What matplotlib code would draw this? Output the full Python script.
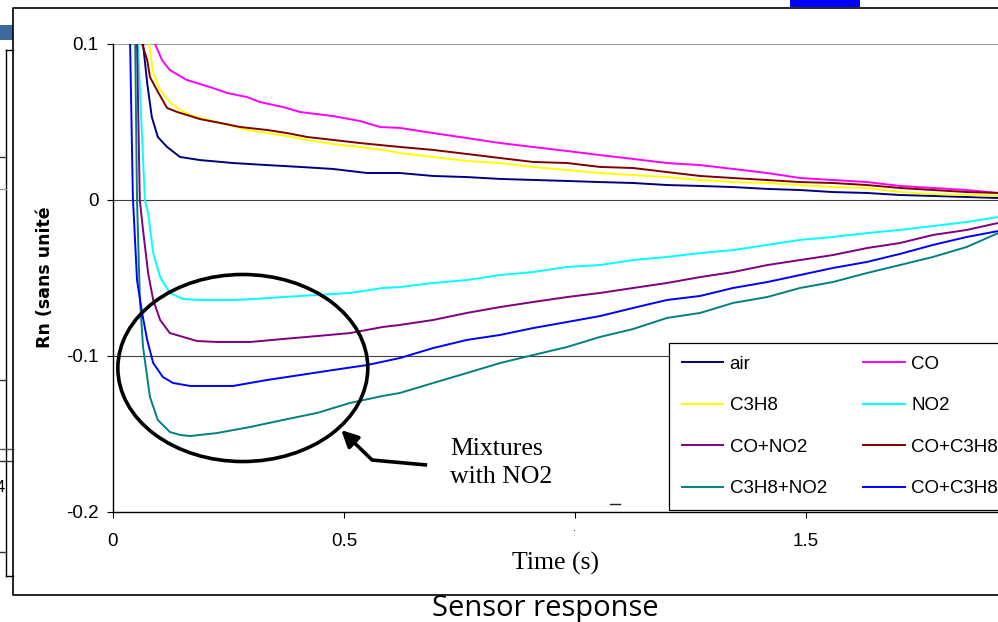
import matplotlib
matplotlib.use("Agg")
import matplotlib.pyplot as plt
from matplotlib.patches import Ellipse, Rectangle
from matplotlib.lines import Line2D

# --- data: time (s) and Rn for each gas ---
air_t = [0.065, 0.074, 0.084, 0.097, 0.117, 0.145, 0.188, 0.260, 0.333, 0.405,
         0.476, 0.550, 0.621, 0.693, 0.766, 0.838, 0.983, 1.054, 1.126, 1.199,
         1.271, 1.342, 1.416, 1.487, 1.558, 1.632, 1.703, 1.775, 1.848, 1.916]
air_rn = [0.100, 0.075, 0.0532, 0.0404, 0.0340, 0.0276, 0.0256, 0.0237, 0.0224, 0.0212,
          0.0199, 0.0173, 0.0173, 0.0154, 0.0147, 0.0135, 0.0122, 0.0115, 0.0109, 0.0096,
          0.0090, 0.0083, 0.0071, 0.0064, 0.0051, 0.0045, 0.0032, 0.0026, 0.0019, 0.0013]

co_t = [0.091, 0.106, 0.123, 0.160, 0.210, 0.247, 0.290, 0.318, 0.368, 0.405, 0.476,
        0.535, 0.578, 0.621, 0.693, 0.766, 0.838, 0.909, 0.983, 1.054, 1.126, 1.199,
        1.271, 1.342, 1.416, 1.487, 1.558, 1.632, 1.703, 1.775, 1.848, 1.916]
co_rn = [0.100, 0.0897, 0.0833, 0.0769, 0.0724, 0.0686, 0.0660, 0.0628, 0.0596, 0.0564, 0.0538,
         0.0506, 0.0468, 0.0462, 0.0429, 0.0397, 0.0365, 0.0340, 0.0314, 0.0288, 0.0263, 0.0237,
         0.0224, 0.0199, 0.0173, 0.0141, 0.0128, 0.0115, 0.0090, 0.0077, 0.0064, 0.0045]

c3h8_t = [0.078, 0.087, 0.102, 0.123, 0.145, 0.167, 0.188, 0.232, 0.290, 0.333, 0.377, 0.420,
          0.476, 0.535, 0.584, 0.621, 0.693, 0.766, 0.838, 0.909, 0.983, 1.054, 1.126, 1.199,
          1.271, 1.342, 1.416, 1.487, 1.558, 1.632, 1.703, 1.775, 1.848, 1.916]
c3h8_rn = [0.100, 0.0814, 0.0705, 0.0628, 0.0577, 0.0545, 0.0526, 0.0494, 0.0449, 0.0429, 0.0410, 0.0385,
           0.0359, 0.0340, 0.0321, 0.0301, 0.0276, 0.0250, 0.0237, 0.0212, 0.0192, 0.0173, 0.0160, 0.0147,
           0.0128, 0.0115, 0.0109, 0.0096, 0.0083, 0.0077, 0.0051, 0.0038, 0.0032, 0.0026]

no2_t = [0.054, 0.069, 0.076, 0.087, 0.102, 0.123, 0.152, 0.188, 0.260, 0.303, 0.368, 0.442,
         0.513, 0.584, 0.621, 0.693, 0.766, 0.838, 0.909, 0.983, 1.054, 1.126, 1.199, 1.271,
         1.342, 1.416, 1.487, 1.558, 1.632, 1.703, 1.775, 1.848, 1.916]
no2_rn = [0.100, 0.0, -0.0083, -0.0340, -0.0494, -0.0596, -0.0635, -0.0641, -0.0641, -0.0635, -0.0622, -0.0609,
          -0.0596, -0.0564, -0.0558, -0.0532, -0.0513, -0.0481, -0.0462, -0.0429, -0.0417, -0.0385, -0.0365, -0.0340,
          -0.0321, -0.0288, -0.0256, -0.0237, -0.0212, -0.0192, -0.0167, -0.0141, -0.0109]

co_no2_t = [0.052, 0.058, 0.065, 0.076, 0.087, 0.102, 0.123, 0.152, 0.182, 0.225, 0.297, 0.368,
            0.442, 0.513, 0.584, 0.621, 0.693, 0.766, 0.838, 0.909, 0.983, 1.054, 1.126, 1.199,
            1.271, 1.342, 1.416, 1.487, 1.558, 1.632, 1.703, 1.775, 1.848, 1.916]
co_no2_rn = [0.100, 0.0, -0.0192, -0.0468, -0.0641, -0.0769, -0.0853, -0.0878, -0.0904, -0.0910, -0.0910, -0.0891,
             -0.0872, -0.0853, -0.0814, -0.0801, -0.0769, -0.0724, -0.0686, -0.0654, -0.0622, -0.0596, -0.0564, -0.0532,
             -0.0494, -0.0462, -0.0417, -0.0385, -0.0353, -0.0308, -0.0276, -0.0224, -0.0192, -0.0147]

co_c3h8_t = [0.063, 0.074, 0.080, 0.095, 0.117, 0.139, 0.160, 0.188, 0.232, 0.275, 0.333, 0.377,
             0.420, 0.476, 0.535, 0.621, 0.693, 0.766, 0.838, 0.909, 0.983, 1.054, 1.126, 1.199,
             1.271, 1.342, 1.416, 1.487, 1.558, 1.632, 1.703, 1.775, 1.848, 1.916]
co_c3h8_rn = [0.100, 0.0897, 0.0788, 0.0705, 0.0590, 0.0564, 0.0545, 0.0519, 0.0494, 0.0468, 0.0449, 0.0429,
              0.0404, 0.0385, 0.0365, 0.0340, 0.0321, 0.0295, 0.0269, 0.0244, 0.0237, 0.0212, 0.0205, 0.0179,
              0.0154, 0.0141, 0.0128, 0.0115, 0.0109, 0.0096, 0.0077, 0.0064, 0.0051, 0.0045]

c3h8_no2_t = [0.048, 0.052, 0.058, 0.065, 0.080, 0.097, 0.123, 0.145, 0.167, 0.225, 0.297, 0.368,
              0.442, 0.513, 0.584, 0.621, 0.693, 0.766, 0.838, 0.909, 0.983, 1.054, 1.126, 1.199,
              1.271, 1.342, 1.416, 1.487, 1.558, 1.632, 1.703, 1.775, 1.848, 1.916]
c3h8_no2_rn = [0.100, 0.0, -0.0622, -0.0942, -0.1263, -0.1410, -0.1487, -0.1506, -0.1513, -0.1494, -0.1455, -0.1410,
               -0.1365, -0.1301, -0.1256, -0.1237, -0.1173, -0.1109, -0.1045, -0.0994, -0.0942, -0.0878, -0.0827, -0.0756,
               -0.0724, -0.0660, -0.0622, -0.0564, -0.0526, -0.0468, -0.0417, -0.0365, -0.0301, -0.0212]

all3_t = [0.037, 0.043, 0.052, 0.063, 0.074, 0.087, 0.108, 0.130, 0.167, 0.260, 0.333, 0.405,
          0.476, 0.550, 0.621, 0.693, 0.766, 0.838, 0.909, 0.983, 1.054, 1.126, 1.199, 1.271,
          1.342, 1.416, 1.487, 1.558, 1.632, 1.703, 1.775, 1.848, 1.916]
all3_rn = [0.100, 0.0019, -0.0513, -0.0724, -0.0897, -0.1045, -0.1135, -0.1173, -0.1192, -0.1192, -0.1154, -0.1122,
           -0.1090, -0.1058, -0.1013, -0.0949, -0.0897, -0.0865, -0.0821, -0.0782, -0.0744, -0.0692, -0.0641, -0.0615,
           -0.0564, -0.0526, -0.0481, -0.0436, -0.0397, -0.0346, -0.0288, -0.0237, -0.0199]

labels = ["air", "CO", "C3H8", "NO2", "CO+NO2", "CO+C3H8", "C3H8+NO2", "CO+C3H8+NO2"]
colors = ["#000080", "#FF00FF", "#FFFF00", "#00FFFF", "#800080", "#800000", "#008080", "#0000FF"]
series = [(air_t, air_rn), (co_t, co_rn), (c3h8_t, c3h8_rn), (no2_t, no2_rn),
          (co_no2_t, co_no2_rn), (co_c3h8_t, co_c3h8_rn), (c3h8_no2_t, c3h8_no2_rn), (all3_t, all3_rn)]

xticks = [0, 0.5, 1.0, 1.5]
xticklabels = ["0", "0.5", "", "1.5"]
yticks = [-0.2, -0.1, 0, 0.1]
yticklabels = ["-0.2", "-0.1", "0", "0.1"]

W, H = 998, 622
fig = plt.figure(figsize=(W / 100, H / 100), dpi=100)
fig.patch.set_facecolor("white")


def fx(px):
    return px / W


def fy(py):
    return 1 - py / H


# --- slide decorations around the chart ---
fig.patches.append(Rectangle((fx(0), fy(40)), fx(13), 15 / H, transform=fig.transFigure,
                             facecolor="#3C6A9E", edgecolor="none"))
fig.patches.append(Rectangle((fx(790), fy(7)), fx(70), 7 / H, transform=fig.transFigure,
                             facecolor="#0000FF", edgecolor="none"))
for (x0, y0, x1, y1, c) in [(6, 50, 6, 576, "black"), (6, 50, 13, 50, "black"), (6, 576, 13, 576, "black"),
                            (0, 157, 6, 157, "#333333"), (0, 189, 6, 189, "#999999"), (0, 380, 6, 380, "#333333"),
                            (0, 449, 13, 449, "#555555"), (0, 461, 13, 461, "#333333"), (0, 552, 6, 552, "#333333"),
                            (610, 504, 620, 504, "#222222")]:
    fig.lines.append(Line2D([fx(x0), fx(x1)], [fy(y0), fy(y1)], transform=fig.transFigure, color=c, lw=1.0))
fig.text(fx(5), fy(487), "4", ha="right", va="center", fontsize=12, family="Liberation Sans")
fig.text(fx(575), fy(531), ".", ha="center", va="baseline", fontsize=8, family="Liberation Sans")

# chart frame
fig.lines.append(Line2D([fx(1005), fx(13), fx(13), fx(1005)], [fy(8), fy(8), fy(595), fy(595)],
                        transform=fig.transFigure, color="black", lw=1.2))

# --- plot area ---
ax = fig.add_axes([fx(113), fy(512), 1 - fx(113), 468 / H])
ax.set_facecolor("none")
handles = []
for (t, rn), lab, c in zip(series, labels, colors):
    ln, = ax.plot(t, rn, color=c, lw=1.4, label=lab, zorder=3)
    handles.append(ln)

ax.set_xlim(0, (W - 113) / 462)
ax.set_ylim(-0.2, 0.1)
ax.axhline(0.1, color="#A0A0A0", lw=1.6, zorder=1)
ax.axhline(0.0, color="#404040", lw=0.8, zorder=1)
ax.axhline(-0.1, color="#404040", lw=0.8, zorder=1)

ax.spines["top"].set_visible(False)
ax.spines["right"].set_visible(False)
ax.spines["left"].set_bounds(-0.2, 0.1)
for s in ("left", "bottom"):
    ax.spines[s].set_linewidth(1.0)
    ax.spines[s].set_color("black")

ax.set_xticks(xticks)
ax.set_xticklabels(xticklabels)
ax.set_yticks(yticks)
ax.set_yticklabels(yticklabels)
ax.tick_params(axis="y", length=4.3, width=0.8, pad=6, labelsize=13.5)
ax.tick_params(axis="x", length=4.3, width=0.8, pad=11, labelsize=13.5)
for lbl in ax.get_xticklabels() + ax.get_yticklabels():
    lbl.set_family("Liberation Sans")

# Excel fills the legend row by row; matplotlib fills column by column
order = [0, 2, 4, 6, 1, 3, 5, 7]
leg = ax.legend([handles[i] for i in order], [labels[i] for i in order], ncol=2, loc="upper left",
                bbox_to_anchor=(fx(669 - 113) / (1 - fx(113)), (512 - 343) / 468),
                borderaxespad=0, frameon=True, fancybox=False, framealpha=1, edgecolor="black",
                prop={"family": "Liberation Sans", "size": 13.5}, handlelength=2.2, handletextpad=0.35,
                columnspacing=1.95, labelspacing=1.3, borderpad=0.68)
leg.get_frame().set_linewidth(0.9)
leg.set_zorder(5)

# --- annotation: circled mixtures with NO2 ---
ax.add_patch(Ellipse((0.281, -0.1077), 0.541, 0.1199, fill=False, edgecolor="black", lw=2.6, zorder=4))
ax.plot([0.680, 0.561], [-0.1699, -0.1667], color="black", lw=2.6, zorder=4, solid_capstyle="butt")
ax.annotate("", xy=(0.494, -0.1475), xytext=(0.561, -0.1667),
            arrowprops=dict(arrowstyle="-|>,head_length=1.0,head_width=0.5", color="black", lw=2.6,
                            shrinkA=0, shrinkB=0), zorder=4)
ax.text(0.729, -0.1686, "Mixtures\nwith NO2", ha="left", va="center", fontsize=18.5,
        family="Liberation Serif", linespacing=1.3, zorder=4)

# --- axis titles ---
fig.text(fx(45), fy(277), "Rn (sans unité", rotation=90, ha="center", va="center",
         fontsize=12.5, fontweight="bold", family="DejaVu Sans")
fig.text(fx(555), fy(563), "Time (s)", ha="center", va="center", fontsize=18.5, family="Liberation Serif")
fig.text(fx(545), fy(594), "Sensor response", ha="center", va="top", fontsize=21, family="Open Sans")

fig.savefig("out.png", dpi=100)
